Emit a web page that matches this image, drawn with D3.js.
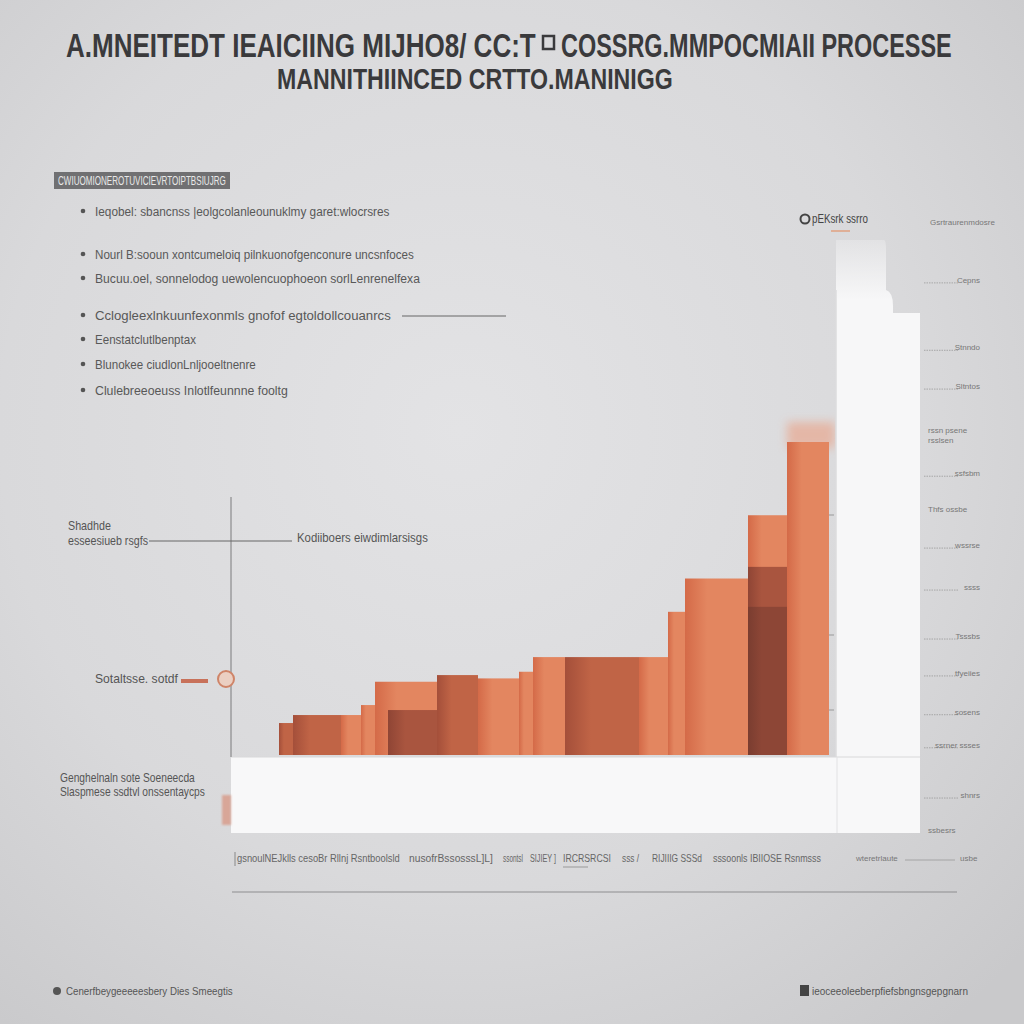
<!DOCTYPE html>
<html><head><meta charset="utf-8">
<script src="https://cdn.jsdelivr.net/npm/d3@7"></script>
<style>html,body{margin:0;padding:0;background:#d6d6d8;}svg{display:block;}</style>
</head><body>
<script>
// ---- data ----
const titleLeft = "A.MNEITEDT IEAICIING MIJHO8/ CC:T";
const titleRight = "COSSRG.MMPOCMIAII PROCESSE";
const titleLine2 = "MANNITHIINCED CRTTO.MANINIGG";
const boxLabel = "CWIUOMIONEROTUVICIEVRTOIPTBSIUJRG";
const bullets = ["Ieqobel: sbancnss |eolgcolanleounuklmy garet:wlocrsres",
  "Nourl B:sooun xontcumeloiq pilnkuonofgenconure uncsnfoces",
  "Bucuu.oel, sonnelodog uewolencuophoeon sorlLenrenelfexa",
  "Cclogleexlnkuunfexonmls gnofof egtoldollcouanrcs",
  "Eenstatclutlbenptax",
  "Blunokee ciudlonLnljooeltnenre",
  "Clulebreeoeuss Inlotlfeunnne fooltg"];
const bulletY = [211, 254, 278, 315, 339, 364, 390];
const bulletW = [295, 319, 325, 296, 101, 161, 193];

// step bars: start, end (x units), value (y units), tone
const barStart = [0, 1.4, 6.2, 8.2, 9.6, 10.9, 15.8, 19.9, 24, 25.4, 28.6, 36, 38.9, 40.6, 46.9, 46.9, 46.9, 50.8];
const barEnd   = [1.4, 6.2, 8.2, 9.6, 15.8, 15.8, 19.9, 24, 25.4, 28.6, 36, 38.9, 40.6, 46.9, 50.8, 50.8, 50.8, 55];
const barValue = [9.6, 12, 12, 15, 22, 13.5, 24, 23, 25, 29.4, 29.4, 29.4, 43, 53, 72, 56.5, 44.5, 94];
const barTone  = [1, 1, 0, 0, 0, 2, 1, 0, 0, 0, 1, 0, 0, 0, 0, 2, 3, 0];

const rightTickVal = [90.9, 80.3, 74.2, 60.5, 49.2, 42.6, 34.9, 29.1, 23, 17.8, 9.9];
const rightTickLab = ["Cepns", "Stnndo", "Sltntos", "ssfsbm", "wssrse", "ssss", "Tsssbs", "tfyeiies", "sosens", "ssrner ssses", "shnrs"];
const rightNoteVal = [100, 67.3, 54.9, 4.4];
const rightNoteLab = [["Gsrtraurenmdosre"], ["rssn psene", "rsslsen"], ["Thfs ossbe"], ["ssbesrs"]];

const bottomSegs = ["gsnoulNEJklls cesoBr Rllnj Rsntboolsld", "nusofrBssosssL]L]", "ssontsl", "SIJIEY ]", "IRCRSRCSI", "sss /", "RIJIIIG SSSd", "sssoonls IBIIOSE Rsnmsss"];
const bottomSegX = [237, 409, 503, 530, 563, 622, 652, 713];
const bottomSegW = [163, 84, 20, 26, 48, 17, 50, 108];

// ---- drawing ----
const W = 1024, H = 1024;
const svg = d3.select("body").append("svg").attr("width", W).attr("height", H);
const defs = svg.append("defs");

const bg = defs.append("radialGradient").attr("id", "bg").attr("cx", "0.45").attr("cy", "0.42").attr("r", "0.75");
bg.append("stop").attr("offset", "0").attr("stop-color", "#e3e3e5");
bg.append("stop").attr("offset", "0.6").attr("stop-color", "#d9d9db");
bg.append("stop").attr("offset", "1").attr("stop-color", "#c9c9cb");
svg.append("rect").attr("width", W).attr("height", H).attr("fill", "url(#bg)");

const blur = defs.append("filter").attr("id", "blur").attr("x", "-50%").attr("y", "-50%").attr("width", "200%").attr("height", "200%");
blur.append("feGaussianBlur").attr("stdDeviation", 5);
const soft = defs.append("filter").attr("id", "soft").attr("x", "-20%").attr("y", "-20%").attr("width", "140%").attr("height", "140%");
soft.append("feGaussianBlur").attr("stdDeviation", 1.2);

const toneCols = [["#d46a48", "#e38660"], ["#a44f3a", "#c06446"], ["#8f4535", "#a9553f"], ["#7a3d30", "#8d4636"]];
toneCols.forEach((c, i) => {
  const g = defs.append("linearGradient").attr("id", "tone" + i).attr("x1", 0).attr("x2", 1).attr("y1", 0).attr("y2", 0);
  g.append("stop").attr("offset", 0).attr("stop-color", c[0]);
  g.append("stop").attr("offset", 0.35).attr("stop-color", c[1]);
  g.append("stop").attr("offset", 1).attr("stop-color", c[1]);
});
const pg = defs.append("linearGradient").attr("id", "panel").attr("gradientUnits", "userSpaceOnUse")
  .attr("x1", 0).attr("x2", 0).attr("y1", 236).attr("y2", 300);
pg.append("stop").attr("offset", 0).attr("stop-color", "#f7f7f8").attr("stop-opacity", 0.25);
pg.append("stop").attr("offset", 1).attr("stop-color", "#f7f7f8").attr("stop-opacity", 1);

const font = "'Liberation Sans Narrow','Arial Narrow','Liberation Sans',sans-serif";

// fit a text horizontally into width w by scaling (keeps real bbox)
function fit(x0, y0, w, txt, size, color, bold) {
  const t = svg.append("text").attr("x", 0).attr("y", 0).attr("font-family", font).attr("font-size", size)
    .attr("font-weight", bold ? "bold" : null).attr("fill", color).text(txt);
  const L = t.node().getComputedTextLength() || w;
  t.attr("transform", `translate(${x0},${y0}) scale(${w / L},1)`);
  return t;
}

// title
fit(66, 57, 470, titleLeft, 33, "#3a3a3c", true);
svg.append("rect").attr("x", 543).attr("y", 36).attr("width", 11).attr("height", 13)
  .attr("fill", "none").attr("stroke", "#3a3a3c").attr("stroke-width", 2.5);
fit(561, 57, 391, titleRight, 33, "#3a3a3c", true);
fit(277, 89, 396, titleLine2, 29, "#3a3a3c", true);

// left box label
svg.append("rect").attr("x", 54).attr("y", 172).attr("width", 176).attr("height", 17).attr("fill", "#707072");
fit(58, 185, 168, boxLabel, 12, "#e8e8e8");

// bullets
bullets.forEach((t, i) => {
  svg.append("circle").attr("cx", 83).attr("cy", bulletY[i]).attr("r", 2.3).attr("fill", "#555");
  fit(95, bulletY[i] + 4.5, bulletW[i], t, 13.5, "#585858");
});
svg.append("line").attr("x1", 402).attr("x2", 506).attr("y1", 316).attr("y2", 316).attr("stroke", "#666").attr("stroke-width", 1);

// scales
const x = d3.scaleLinear().domain([0, 55]).range([279, 829]);
const y = d3.scaleLinear().domain([0, 100]).range([755, 422]);
const yr = d3.scaleLinear().domain([0, 100]).range([858, 222]);

// glow above tallest bar
svg.append("rect").attr("x", x(50.8)).attr("y", y(100)).attr("width", x(55) - x(50.8) + 6).attr("height", 26)
  .attr("fill", "#e8a890").attr("opacity", 0.7).attr("filter", "url(#blur)");

// bars
svg.append("g").selectAll("rect").data(barValue).join("rect")
  .attr("x", (d, i) => x(barStart[i]))
  .attr("width", (d, i) => x(barEnd[i]) - x(barStart[i]))
  .attr("y", d => y(d))
  .attr("height", d => y(0) - y(d))
  .attr("fill", (d, i) => `url(#tone${barTone[i]})`);

// tall white panel
svg.append("path").attr("d", "M836,833 L836,240 L884,240 Q886,240 886,250 L886,290 Q893,292 893,306 L893,313 L920,313 L920,833 Z")
  .attr("fill", "url(#panel)");
svg.append("line").attr("x1", 836).attr("x2", 836).attr("y1", 290).attr("y2", 833).attr("stroke", "#dcdcde").attr("stroke-width", 1.5);

// bottom white band
svg.append("rect").attr("x", 231).attr("y", 757).attr("width", 689).attr("height", 76).attr("fill", "#f8f8f9");
svg.append("line").attr("x1", 231).attr("x2", 920).attr("y1", 757).attr("y2", 757).attr("stroke", "#d8d8da").attr("stroke-width", 1);
svg.append("line").attr("x1", 837).attr("x2", 837).attr("y1", 757).attr("y2", 833).attr("stroke", "#e2e2e4").attr("stroke-width", 1);
svg.append("rect").attr("x", 222).attr("y", 795).attr("width", 9).attr("height", 30).attr("fill", "#d89a88").attr("opacity", 0.8).attr("filter", "url(#soft)");

// faint tick marks at bar right edge
[515, 635, 710].forEach(v => svg.append("line").attr("x1", 829).attr("x2", 834).attr("y1", v).attr("y2", v).attr("stroke", "#999"));

// left axis line
svg.append("line").attr("x1", 231).attr("x2", 231).attr("y1", 497).attr("y2", 757).attr("stroke", "#7a7a7c").attr("stroke-width", 1);

// annotations
fit(68, 530, 43, "Shadhde", 12, "#555");
fit(68, 545, 80, "esseesiueb rsgfs", 12, "#555");
svg.append("line").attr("x1", 149).attr("x2", 292).attr("y1", 541).attr("y2", 541).attr("stroke", "#666");
fit(297, 542, 131, "Kodiiboers eiwdimlarsisgs", 13, "#555");

fit(95, 683, 83, "Sotaltsse. sotdf", 13, "#555");
svg.append("line").attr("x1", 181).attr("x2", 208).attr("y1", 681).attr("y2", 681).attr("stroke", "#c8715a").attr("stroke-width", 4);
svg.append("circle").attr("cx", 226).attr("cy", 679).attr("r", 8).attr("fill", "#ebcfc2").attr("stroke", "#cf8468").attr("stroke-width", 2);

fit(60, 782, 135, "Genghelnaln sote Soeneecda", 12, "#555");
fit(60, 796, 145, "Slaspmese ssdtvl onssentaycps", 12, "#555");

// top-right legend
svg.append("circle").attr("cx", 805).attr("cy", 219).attr("r", 4.5).attr("fill", "none").attr("stroke", "#444").attr("stroke-width", 2);
fit(812, 223, 56, "pEKsrk ssrro", 12, "#444");
svg.append("line").attr("x1", 831).attr("x2", 850).attr("y1", 231).attr("y2", 231).attr("stroke", "#e0a080").attr("stroke-width", 1.5);

// right axis ticks
const rg = svg.append("g").attr("font-family", font).attr("font-size", 8).attr("fill", "#777");
rightTickVal.forEach((v, i) => {
  rg.append("line").attr("x1", 924).attr("x2", 958).attr("y1", yr(v) + 3).attr("y2", yr(v) + 3)
    .attr("stroke", "#999").attr("stroke-width", 0.8).attr("stroke-dasharray", "1.5,1");
  rg.append("text").attr("x", 980).attr("y", yr(v) + 3).attr("text-anchor", "end").text(rightTickLab[i]);
});
rightNoteVal.forEach((v, i) => {
  rightNoteLab[i].forEach((l, j) => rg.append("text").attr("x", i === 0 ? 930 : 928).attr("y", yr(v) + 3 + j * 10).text(l));
});

// bottom axis text row
bottomSegs.forEach((s, i) => fit(bottomSegX[i], 862, bottomSegW[i], s, 10, "#666"));
svg.append("line").attr("x1", 235).attr("x2", 235).attr("y1", 852).attr("y2", 866).attr("stroke", "#888");
svg.append("line").attr("x1", 563).attr("x2", 588).attr("y1", 867).attr("y2", 867).attr("stroke", "#999");
svg.append("text").attr("x", 856).attr("y", 861).attr("font-family", font).attr("font-size", 8).attr("fill", "#777").text("wteretrlaute");
svg.append("line").attr("x1", 905).attr("x2", 955).attr("y1", 860).attr("y2", 860).attr("stroke", "#999").attr("stroke-width", 0.8);
svg.append("text").attr("x", 960).attr("y", 861).attr("font-family", font).attr("font-size", 8).attr("fill", "#777").text("usbe");
svg.append("line").attr("x1", 232).attr("x2", 957).attr("y1", 892).attr("y2", 892).attr("stroke", "#8e8e90").attr("stroke-width", 1.2);

// footer
svg.append("circle").attr("cx", 57).attr("cy", 991).attr("r", 4).attr("fill", "#555");
fit(66, 995, 167, "Cenerfbeygeeeeesbery Dies Smeegtis", 11, "#555");
svg.append("rect").attr("x", 800).attr("y", 985).attr("width", 9).attr("height", 11).attr("fill", "#444");
fit(812, 995, 156, "ieoceeoleeberpfiefsbngnsgepgnarn", 11, "#555");
</script>
</body></html>
